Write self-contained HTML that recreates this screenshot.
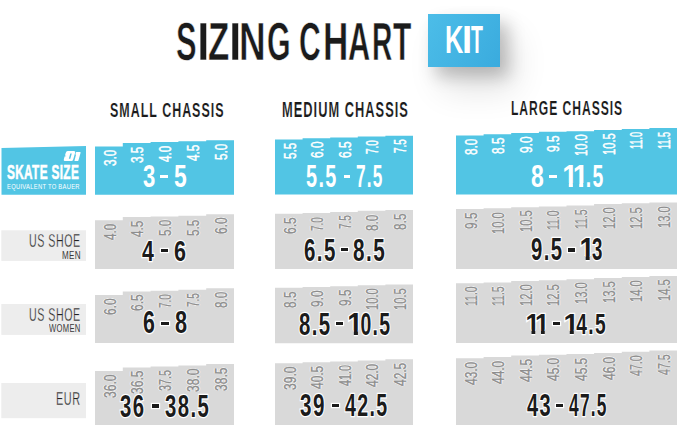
<!DOCTYPE html>
<html><head><meta charset="utf-8"><style>
html,body{margin:0;padding:0;background:#fff;}
body{width:679px;height:427px;position:relative;overflow:hidden;font-family:"Liberation Sans",sans-serif;}
.t{position:absolute;line-height:1;white-space:nowrap;transform-origin:0 0;}
.one{display:inline-block;clip-path:polygon(-1em -1em,2em -1em,2em 0.66em,0.43em 0.66em,0.43em 0.70em,0.374em 0.70em,0.374em 2em,0.23em 2em,0.23em 0.70em,0.17em 0.70em,0.17em 0.66em,-1em 0.66em);transform:scaleX(1.45);transform-origin:0.302em 50%;margin-right:-0.09em;}
svg{position:absolute;left:0;top:0;}
.kit{position:absolute;left:428px;top:14.4px;width:72px;height:53px;background:linear-gradient(120deg,#4cbde8,#3aabde);box-shadow:8px 9px 16px rgba(0,0,0,0.22),14px 22px 34px rgba(0,0,0,0.12);}
</style></head><body>
<div class="kit"></div>
<svg width="679" height="427" viewBox="0 0 679 427">
<polygon fill="#52c5e4" points="95.0,194.7 95.0,146.4 122.8,146.4 122.8,143.1 150.6,143.1 150.6,142.0 178.4,142.0 178.4,141.3 206.2,141.3 206.2,140.3 234.0,140.3 234.0,194.7"/>
<polygon fill="#52c5e4" points="275.0,194.6 275.0,139.4 302.6,139.4 302.6,138.3 330.2,138.3 330.2,137.5 357.8,137.5 357.8,136.5 385.4,136.5 385.4,135.8 413.0,135.8 413.0,194.6"/>
<polygon fill="#52c5e4" points="456.0,194.6 456.0,135.4 483.6,135.4 483.6,134.2 511.2,134.2 511.2,133.0 538.9,133.0 538.9,131.8 566.5,131.8 566.5,131.2 594.1,131.2 594.1,129.9 621.8,129.9 621.8,128.9 649.4,128.9 649.4,128.0 677.0,128.0 677.0,194.6"/>
<polygon fill="#d9d9d9" points="95.0,269.0 95.0,220.3 122.8,220.3 122.8,217.0 150.6,217.0 150.6,216.5 178.4,216.5 178.4,215.7 206.2,215.7 206.2,214.3 234.0,214.3 234.0,269.0"/>
<polygon fill="#d9d9d9" points="275.0,269.0 275.0,213.8 302.6,213.8 302.6,213.1 330.2,213.1 330.2,212.0 357.8,212.0 357.8,210.8 385.4,210.8 385.4,210.0 413.0,210.0 413.0,269.0"/>
<polygon fill="#d9d9d9" points="456.0,268.9 456.0,209.0 483.6,209.0 483.6,208.3 511.2,208.3 511.2,207.2 538.9,207.2 538.9,206.5 566.5,206.5 566.5,205.4 594.1,205.4 594.1,204.0 621.8,204.0 621.8,203.3 649.4,203.3 649.4,202.6 677.0,202.6 677.0,268.9"/>
<polygon fill="#d9d9d9" points="95.0,343.0 95.0,295.1 122.8,295.1 122.8,291.4 150.6,291.4 150.6,290.7 178.4,290.7 178.4,289.7 206.2,289.7 206.2,288.3 234.0,288.3 234.0,343.0"/>
<polygon fill="#d9d9d9" points="275.0,343.2 275.0,287.8 302.6,287.8 302.6,287.1 330.2,287.1 330.2,286.3 357.8,286.3 357.8,285.2 385.4,285.2 385.4,284.4 413.0,284.4 413.0,343.2"/>
<polygon fill="#d9d9d9" points="456.0,342.9 456.0,283.3 483.6,283.3 483.6,282.4 511.2,282.4 511.2,281.0 538.9,281.0 538.9,280.3 566.5,280.3 566.5,279.2 594.1,279.2 594.1,278.1 621.8,278.1 621.8,276.9 649.4,276.9 649.4,276.0 677.0,276.0 677.0,342.9"/>
<polygon fill="#d9d9d9" points="95.0,425.0 95.0,371.1 122.8,371.1 122.8,367.4 150.6,367.4 150.6,366.5 178.4,366.5 178.4,365.5 206.2,365.5 206.2,364.1 234.0,364.1 234.0,425.0"/>
<polygon fill="#d9d9d9" points="275.0,425.0 275.0,363.3 302.6,363.3 302.6,362.2 330.2,362.2 330.2,361.4 357.8,361.4 357.8,360.4 385.4,360.4 385.4,359.2 413.0,359.2 413.0,425.0"/>
<polygon fill="#d9d9d9" points="456.0,425.0 456.0,358.3 483.6,358.3 483.6,357.0 511.2,357.0 511.2,355.6 538.9,355.6 538.9,354.7 566.5,354.7 566.5,354.1 594.1,354.1 594.1,352.9 621.8,352.9 621.8,351.7 649.4,351.7 649.4,350.6 677.0,350.6 677.0,425.0"/>
<polygon fill="#52c5e4" points="1.5,194.8 1.5,148 86,146 86,194.8"/>
<rect fill="#ededed" x="1.3" y="230.3" width="84.7" height="30.6"/>
<rect fill="#ededed" x="1.3" y="304" width="84.7" height="30.9"/>
<rect fill="#ededed" x="1.3" y="383" width="84.7" height="35.2"/>
<path fill="#fff" fill-rule="evenodd" d="M67.8,151.0 L74.0,151.0 Q75.6,151.0 75.2,152.6 L73.2,159.6 Q72.8,161.1 71.3,161.1 L65.0,161.1 Q63.4,161.1 63.8,159.6 L64.6,156.6 L66.4,156.0 L65.0,155.4 L65.6,153.2 Q66.2,151.0 67.8,151.0 Z M70.3,153.4 L71.8,153.4 L70.3,158.8 L68.8,158.8 Z"/>
<path fill="#fff" d="M76.2,152.0 L80.0,152.0 Q80.8,152.0 80.6,152.8 L78.4,160.4 Q78.2,161.1 77.5,161.1 L75.0,161.1 Q74.3,161.1 74.5,160.4 L76.1,154.6 L75.2,154.6 Z"/>
</svg>
<span class="t" style="left:101.65px;top:166.24px;font-size:16.40px;transform:rotate(-90deg) scaleX(0.7189);color:#ffffff;font-weight:400;-webkit-text-stroke:0.5px #fff;">3.0</span>
<span class="t" style="left:129.45px;top:162.94px;font-size:16.40px;transform:rotate(-90deg) scaleX(0.7203);color:#ffffff;font-weight:400;-webkit-text-stroke:0.5px #fff;">3.5</span>
<span class="t" style="left:157.25px;top:161.66px;font-size:16.40px;transform:rotate(-90deg) scaleX(0.7108);color:#ffffff;font-weight:400;-webkit-text-stroke:0.5px #fff;">4.0</span>
<span class="t" style="left:185.05px;top:160.96px;font-size:16.40px;transform:rotate(-90deg) scaleX(0.7121);color:#ffffff;font-weight:400;-webkit-text-stroke:0.5px #fff;">4.5</span>
<span class="t" style="left:212.85px;top:160.17px;font-size:16.40px;transform:rotate(-90deg) scaleX(0.7203);color:#ffffff;font-weight:400;-webkit-text-stroke:0.5px #fff;">5.0</span>
<span class="t" style="left:142.90px;top:160.57px;font-size:31.69px;letter-spacing:2.22px;transform:scaleX(0.6977);color:#ffffff;font-weight:700;">3</span>
<span class="t" style="left:174.11px;top:160.57px;font-size:31.69px;letter-spacing:2.22px;transform:scaleX(0.7231);color:#ffffff;font-weight:700;">5</span>
<div style="position:absolute;left:160.20px;top:174.56px;width:7.90px;height:3.3px;background:#ffffff;"></div>
<span class="t" style="left:281.55px;top:159.27px;font-size:16.40px;transform:rotate(-90deg) scaleX(0.7217);color:#ffffff;font-weight:400;-webkit-text-stroke:0.5px #fff;">5.5</span>
<span class="t" style="left:309.15px;top:158.30px;font-size:16.40px;transform:rotate(-90deg) scaleX(0.7258);color:#ffffff;font-weight:400;-webkit-text-stroke:0.5px #fff;">6.0</span>
<span class="t" style="left:336.75px;top:157.50px;font-size:16.40px;transform:rotate(-90deg) scaleX(0.7272);color:#ffffff;font-weight:400;-webkit-text-stroke:0.5px #fff;">6.5</span>
<span class="t" style="left:364.35px;top:153.90px;font-size:16.40px;transform:rotate(-90deg) scaleX(0.6087);color:#ffffff;font-weight:400;-webkit-text-stroke:0.5px #fff;">7.0</span>
<span class="t" style="left:391.95px;top:153.20px;font-size:16.40px;transform:rotate(-90deg) scaleX(0.6099);color:#ffffff;font-weight:400;-webkit-text-stroke:0.5px #fff;">7.5</span>
<span class="t" style="left:306.01px;top:160.57px;font-size:31.69px;letter-spacing:2.22px;transform:scaleX(0.6258);color:#ffffff;font-weight:700;">5.5</span>
<span class="t" style="left:355.57px;top:160.57px;font-size:31.69px;letter-spacing:2.22px;transform:scaleX(0.5447);color:#ffffff;font-weight:700;">7.5</span>
<div style="position:absolute;left:343.70px;top:174.56px;width:6.70px;height:3.3px;background:#ffffff;"></div>
<span class="t" style="left:462.57px;top:155.30px;font-size:16.40px;transform:rotate(-90deg) scaleX(0.7217);color:#ffffff;font-weight:400;-webkit-text-stroke:0.5px #fff;">8.0</span>
<span class="t" style="left:490.19px;top:154.10px;font-size:16.40px;transform:rotate(-90deg) scaleX(0.7230);color:#ffffff;font-weight:400;-webkit-text-stroke:0.5px #fff;">8.5</span>
<span class="t" style="left:517.82px;top:152.96px;font-size:16.40px;transform:rotate(-90deg) scaleX(0.7244);color:#ffffff;font-weight:400;-webkit-text-stroke:0.5px #fff;">9.0</span>
<span class="t" style="left:545.44px;top:151.77px;font-size:16.40px;transform:rotate(-90deg) scaleX(0.7258);color:#ffffff;font-weight:400;-webkit-text-stroke:0.5px #fff;">9.5</span>
<span class="t" style="left:573.07px;top:156.44px;font-size:16.40px;transform:rotate(-90deg) scaleX(0.6823);color:#ffffff;font-weight:400;-webkit-text-stroke:0.5px #fff;">10.0</span>
<span class="t" style="left:600.69px;top:155.14px;font-size:16.40px;transform:rotate(-90deg) scaleX(0.6832);color:#ffffff;font-weight:400;-webkit-text-stroke:0.5px #fff;">10.5</span>
<span class="t" style="left:628.32px;top:149.48px;font-size:16.40px;transform:rotate(-90deg) scaleX(0.5553);color:#ffffff;font-weight:400;-webkit-text-stroke:0.5px #fff;">11.0</span>
<span class="t" style="left:655.94px;top:148.58px;font-size:16.40px;transform:rotate(-90deg) scaleX(0.5560);color:#ffffff;font-weight:400;-webkit-text-stroke:0.5px #fff;">11.5</span>
<span class="t" style="left:531.15px;top:160.85px;font-size:31.83px;letter-spacing:2.23px;transform:scaleX(0.7208);color:#ffffff;font-weight:700;">8</span>
<span class="t" style="left:564.67px;top:160.85px;font-size:31.83px;letter-spacing:2.23px;transform:scaleX(0.6098);color:#ffffff;font-weight:700;"><span class="one">1</span><span class="one">1</span>.5</span>
<div style="position:absolute;left:549.40px;top:174.91px;width:8.10px;height:3.3px;background:#ffffff;"></div>
<span class="t" style="left:101.65px;top:239.96px;font-size:16.40px;transform:rotate(-90deg) scaleX(0.7108);color:#8e8e8e;font-weight:400;-webkit-text-stroke:0.45px #8e8e8e;text-shadow:0.8px 0 #fff,-0.8px 0 #fff,0 0.8px #fff,0 -0.8px #fff;">4.0</span>
<span class="t" style="left:129.45px;top:236.66px;font-size:16.40px;transform:rotate(-90deg) scaleX(0.7121);color:#8e8e8e;font-weight:400;-webkit-text-stroke:0.45px #8e8e8e;text-shadow:0.8px 0 #fff,-0.8px 0 #fff,0 0.8px #fff,0 -0.8px #fff;">4.5</span>
<span class="t" style="left:157.25px;top:236.37px;font-size:16.40px;transform:rotate(-90deg) scaleX(0.7203);color:#8e8e8e;font-weight:400;-webkit-text-stroke:0.45px #8e8e8e;text-shadow:0.8px 0 #fff,-0.8px 0 #fff,0 0.8px #fff,0 -0.8px #fff;">5.0</span>
<span class="t" style="left:185.05px;top:235.57px;font-size:16.40px;transform:rotate(-90deg) scaleX(0.7217);color:#8e8e8e;font-weight:400;-webkit-text-stroke:0.45px #8e8e8e;text-shadow:0.8px 0 #fff,-0.8px 0 #fff,0 0.8px #fff,0 -0.8px #fff;">5.5</span>
<span class="t" style="left:212.85px;top:234.30px;font-size:16.40px;transform:rotate(-90deg) scaleX(0.7258);color:#8e8e8e;font-weight:400;-webkit-text-stroke:0.45px #8e8e8e;text-shadow:0.8px 0 #fff,-0.8px 0 #fff,0 0.8px #fff,0 -0.8px #fff;">6.0</span>
<span class="t" style="left:142.28px;top:235.52px;font-size:30.00px;letter-spacing:2.10px;transform:scaleX(0.7103);color:#1b1b1b;font-weight:700;-webkit-text-stroke:2.6px #fff;paint-order:stroke fill;">4</span>
<span class="t" style="left:174.19px;top:235.52px;font-size:30.00px;letter-spacing:2.10px;transform:scaleX(0.7185);color:#1b1b1b;font-weight:700;-webkit-text-stroke:2.6px #fff;paint-order:stroke fill;">6</span>
<div style="position:absolute;left:160.70px;top:248.68px;width:7.70px;height:3.3px;background:#1b1b1b;box-shadow:0 0 0 1.2px #fff;"></div>
<span class="t" style="left:281.55px;top:233.80px;font-size:16.40px;transform:rotate(-90deg) scaleX(0.7272);color:#8e8e8e;font-weight:400;-webkit-text-stroke:0.45px #8e8e8e;text-shadow:0.8px 0 #fff,-0.8px 0 #fff,0 0.8px #fff,0 -0.8px #fff;">6.5</span>
<span class="t" style="left:309.15px;top:230.50px;font-size:16.40px;transform:rotate(-90deg) scaleX(0.6087);color:#8e8e8e;font-weight:400;-webkit-text-stroke:0.45px #8e8e8e;text-shadow:0.8px 0 #fff,-0.8px 0 #fff,0 0.8px #fff,0 -0.8px #fff;">7.0</span>
<span class="t" style="left:336.75px;top:229.40px;font-size:16.40px;transform:rotate(-90deg) scaleX(0.6099);color:#8e8e8e;font-weight:400;-webkit-text-stroke:0.45px #8e8e8e;text-shadow:0.8px 0 #fff,-0.8px 0 #fff,0 0.8px #fff,0 -0.8px #fff;">7.5</span>
<span class="t" style="left:364.35px;top:230.70px;font-size:16.40px;transform:rotate(-90deg) scaleX(0.7217);color:#8e8e8e;font-weight:400;-webkit-text-stroke:0.45px #8e8e8e;text-shadow:0.8px 0 #fff,-0.8px 0 #fff,0 0.8px #fff,0 -0.8px #fff;">8.0</span>
<span class="t" style="left:391.95px;top:229.90px;font-size:16.40px;transform:rotate(-90deg) scaleX(0.7230);color:#8e8e8e;font-weight:400;-webkit-text-stroke:0.45px #8e8e8e;text-shadow:0.8px 0 #fff,-0.8px 0 #fff,0 0.8px #fff,0 -0.8px #fff;">8.5</span>
<span class="t" style="left:303.83px;top:234.74px;font-size:30.56px;letter-spacing:2.14px;transform:scaleX(0.6722);color:#1b1b1b;font-weight:700;-webkit-text-stroke:2.6px #fff;paint-order:stroke fill;">6.5</span>
<span class="t" style="left:353.33px;top:234.74px;font-size:30.56px;letter-spacing:2.14px;transform:scaleX(0.6789);color:#1b1b1b;font-weight:700;-webkit-text-stroke:2.6px #fff;paint-order:stroke fill;">8.5</span>
<div style="position:absolute;left:340.90px;top:248.17px;width:6.90px;height:3.3px;background:#1b1b1b;box-shadow:0 0 0 1.2px #fff;"></div>
<span class="t" style="left:462.57px;top:228.97px;font-size:16.40px;transform:rotate(-90deg) scaleX(0.7258);color:#8e8e8e;font-weight:400;-webkit-text-stroke:0.45px #8e8e8e;text-shadow:0.8px 0 #fff,-0.8px 0 #fff,0 0.8px #fff,0 -0.8px #fff;">9.5</span>
<span class="t" style="left:490.19px;top:233.54px;font-size:16.40px;transform:rotate(-90deg) scaleX(0.6823);color:#8e8e8e;font-weight:400;-webkit-text-stroke:0.45px #8e8e8e;text-shadow:0.8px 0 #fff,-0.8px 0 #fff,0 0.8px #fff,0 -0.8px #fff;">10.0</span>
<span class="t" style="left:517.82px;top:232.44px;font-size:16.40px;transform:rotate(-90deg) scaleX(0.6832);color:#8e8e8e;font-weight:400;-webkit-text-stroke:0.45px #8e8e8e;text-shadow:0.8px 0 #fff,-0.8px 0 #fff,0 0.8px #fff,0 -0.8px #fff;">10.5</span>
<span class="t" style="left:545.44px;top:229.69px;font-size:16.40px;transform:rotate(-90deg) scaleX(0.6420);color:#8e8e8e;font-weight:400;-webkit-text-stroke:0.45px #8e8e8e;text-shadow:0.8px 0 #fff,-0.8px 0 #fff,0 0.8px #fff,0 -0.8px #fff;">11.0</span>
<span class="t" style="left:573.07px;top:228.59px;font-size:16.40px;transform:rotate(-90deg) scaleX(0.6429);color:#8e8e8e;font-weight:400;-webkit-text-stroke:0.45px #8e8e8e;text-shadow:0.8px 0 #fff,-0.8px 0 #fff,0 0.8px #fff,0 -0.8px #fff;">11.5</span>
<span class="t" style="left:600.69px;top:229.24px;font-size:16.40px;transform:rotate(-90deg) scaleX(0.6823);color:#8e8e8e;font-weight:400;-webkit-text-stroke:0.45px #8e8e8e;text-shadow:0.8px 0 #fff,-0.8px 0 #fff,0 0.8px #fff,0 -0.8px #fff;">12.0</span>
<span class="t" style="left:628.32px;top:228.54px;font-size:16.40px;transform:rotate(-90deg) scaleX(0.6832);color:#8e8e8e;font-weight:400;-webkit-text-stroke:0.45px #8e8e8e;text-shadow:0.8px 0 #fff,-0.8px 0 #fff,0 0.8px #fff,0 -0.8px #fff;">12.5</span>
<span class="t" style="left:655.94px;top:227.84px;font-size:16.40px;transform:rotate(-90deg) scaleX(0.6823);color:#8e8e8e;font-weight:400;-webkit-text-stroke:0.45px #8e8e8e;text-shadow:0.8px 0 #fff,-0.8px 0 #fff,0 0.8px #fff,0 -0.8px #fff;">13.0</span>
<span class="t" style="left:530.59px;top:234.70px;font-size:30.85px;letter-spacing:2.16px;transform:scaleX(0.6583);color:#1b1b1b;font-weight:700;-webkit-text-stroke:2.6px #fff;paint-order:stroke fill;">9.5</span>
<span class="t" style="left:582.44px;top:234.70px;font-size:30.85px;letter-spacing:2.16px;transform:scaleX(0.6074);color:#1b1b1b;font-weight:700;-webkit-text-stroke:2.6px #fff;paint-order:stroke fill;"><span class="one">1</span>3</span>
<div style="position:absolute;left:567.70px;top:248.27px;width:7.30px;height:3.3px;background:#1b1b1b;box-shadow:0 0 0 1.2px #fff;"></div>
<span class="t" style="left:101.65px;top:315.10px;font-size:16.40px;transform:rotate(-90deg) scaleX(0.7258);color:#8e8e8e;font-weight:400;-webkit-text-stroke:0.45px #8e8e8e;text-shadow:0.8px 0 #fff,-0.8px 0 #fff,0 0.8px #fff,0 -0.8px #fff;">6.0</span>
<span class="t" style="left:129.45px;top:311.40px;font-size:16.40px;transform:rotate(-90deg) scaleX(0.7272);color:#8e8e8e;font-weight:400;-webkit-text-stroke:0.45px #8e8e8e;text-shadow:0.8px 0 #fff,-0.8px 0 #fff,0 0.8px #fff,0 -0.8px #fff;">6.5</span>
<span class="t" style="left:157.25px;top:308.10px;font-size:16.40px;transform:rotate(-90deg) scaleX(0.6087);color:#8e8e8e;font-weight:400;-webkit-text-stroke:0.45px #8e8e8e;text-shadow:0.8px 0 #fff,-0.8px 0 #fff,0 0.8px #fff,0 -0.8px #fff;">7.0</span>
<span class="t" style="left:185.05px;top:307.10px;font-size:16.40px;transform:rotate(-90deg) scaleX(0.6099);color:#8e8e8e;font-weight:400;-webkit-text-stroke:0.45px #8e8e8e;text-shadow:0.8px 0 #fff,-0.8px 0 #fff,0 0.8px #fff,0 -0.8px #fff;">7.5</span>
<span class="t" style="left:212.85px;top:308.20px;font-size:16.40px;transform:rotate(-90deg) scaleX(0.7217);color:#8e8e8e;font-weight:400;-webkit-text-stroke:0.45px #8e8e8e;text-shadow:0.8px 0 #fff,-0.8px 0 #fff,0 0.8px #fff,0 -0.8px #fff;">8.0</span>
<span class="t" style="left:143.20px;top:308.20px;font-size:30.85px;letter-spacing:2.16px;transform:scaleX(0.6921);color:#1b1b1b;font-weight:700;-webkit-text-stroke:2.6px #fff;paint-order:stroke fill;">6</span>
<span class="t" style="left:174.69px;top:308.20px;font-size:30.85px;letter-spacing:2.16px;transform:scaleX(0.7044);color:#1b1b1b;font-weight:700;-webkit-text-stroke:2.6px #fff;paint-order:stroke fill;">8</span>
<div style="position:absolute;left:161.00px;top:321.77px;width:7.60px;height:3.3px;background:#1b1b1b;box-shadow:0 0 0 1.2px #fff;"></div>
<span class="t" style="left:281.55px;top:307.70px;font-size:16.40px;transform:rotate(-90deg) scaleX(0.7230);color:#8e8e8e;font-weight:400;-webkit-text-stroke:0.45px #8e8e8e;text-shadow:0.8px 0 #fff,-0.8px 0 #fff,0 0.8px #fff,0 -0.8px #fff;">8.5</span>
<span class="t" style="left:309.15px;top:307.06px;font-size:16.40px;transform:rotate(-90deg) scaleX(0.7244);color:#8e8e8e;font-weight:400;-webkit-text-stroke:0.45px #8e8e8e;text-shadow:0.8px 0 #fff,-0.8px 0 #fff,0 0.8px #fff,0 -0.8px #fff;">9.0</span>
<span class="t" style="left:336.75px;top:306.27px;font-size:16.40px;transform:rotate(-90deg) scaleX(0.7258);color:#8e8e8e;font-weight:400;-webkit-text-stroke:0.45px #8e8e8e;text-shadow:0.8px 0 #fff,-0.8px 0 #fff,0 0.8px #fff,0 -0.8px #fff;">9.5</span>
<span class="t" style="left:364.35px;top:310.44px;font-size:16.40px;transform:rotate(-90deg) scaleX(0.6823);color:#8e8e8e;font-weight:400;-webkit-text-stroke:0.45px #8e8e8e;text-shadow:0.8px 0 #fff,-0.8px 0 #fff,0 0.8px #fff,0 -0.8px #fff;">10.0</span>
<span class="t" style="left:391.95px;top:309.64px;font-size:16.40px;transform:rotate(-90deg) scaleX(0.6832);color:#8e8e8e;font-weight:400;-webkit-text-stroke:0.45px #8e8e8e;text-shadow:0.8px 0 #fff,-0.8px 0 #fff,0 0.8px #fff,0 -0.8px #fff;">10.5</span>
<span class="t" style="left:298.64px;top:308.74px;font-size:30.56px;letter-spacing:2.14px;transform:scaleX(0.6677);color:#1b1b1b;font-weight:700;-webkit-text-stroke:2.6px #fff;paint-order:stroke fill;">8.5</span>
<span class="t" style="left:350.47px;top:308.74px;font-size:30.56px;letter-spacing:2.14px;transform:scaleX(0.6364);color:#1b1b1b;font-weight:700;-webkit-text-stroke:2.6px #fff;paint-order:stroke fill;"><span class="one">1</span>0.5</span>
<div style="position:absolute;left:336.00px;top:322.17px;width:6.80px;height:3.3px;background:#1b1b1b;box-shadow:0 0 0 1.2px #fff;"></div>
<span class="t" style="left:462.57px;top:306.49px;font-size:16.40px;transform:rotate(-90deg) scaleX(0.6420);color:#8e8e8e;font-weight:400;-webkit-text-stroke:0.45px #8e8e8e;text-shadow:0.8px 0 #fff,-0.8px 0 #fff,0 0.8px #fff,0 -0.8px #fff;">11.0</span>
<span class="t" style="left:490.19px;top:305.59px;font-size:16.40px;transform:rotate(-90deg) scaleX(0.6429);color:#8e8e8e;font-weight:400;-webkit-text-stroke:0.45px #8e8e8e;text-shadow:0.8px 0 #fff,-0.8px 0 #fff,0 0.8px #fff,0 -0.8px #fff;">11.5</span>
<span class="t" style="left:517.82px;top:306.24px;font-size:16.40px;transform:rotate(-90deg) scaleX(0.6823);color:#8e8e8e;font-weight:400;-webkit-text-stroke:0.45px #8e8e8e;text-shadow:0.8px 0 #fff,-0.8px 0 #fff,0 0.8px #fff,0 -0.8px #fff;">12.0</span>
<span class="t" style="left:545.44px;top:305.54px;font-size:16.40px;transform:rotate(-90deg) scaleX(0.6832);color:#8e8e8e;font-weight:400;-webkit-text-stroke:0.45px #8e8e8e;text-shadow:0.8px 0 #fff,-0.8px 0 #fff,0 0.8px #fff,0 -0.8px #fff;">12.5</span>
<span class="t" style="left:573.07px;top:304.44px;font-size:16.40px;transform:rotate(-90deg) scaleX(0.6823);color:#8e8e8e;font-weight:400;-webkit-text-stroke:0.45px #8e8e8e;text-shadow:0.8px 0 #fff,-0.8px 0 #fff,0 0.8px #fff,0 -0.8px #fff;">13.0</span>
<span class="t" style="left:600.69px;top:303.34px;font-size:16.40px;transform:rotate(-90deg) scaleX(0.6832);color:#8e8e8e;font-weight:400;-webkit-text-stroke:0.45px #8e8e8e;text-shadow:0.8px 0 #fff,-0.8px 0 #fff,0 0.8px #fff,0 -0.8px #fff;">13.5</span>
<span class="t" style="left:628.32px;top:302.14px;font-size:16.40px;transform:rotate(-90deg) scaleX(0.6823);color:#8e8e8e;font-weight:400;-webkit-text-stroke:0.45px #8e8e8e;text-shadow:0.8px 0 #fff,-0.8px 0 #fff,0 0.8px #fff,0 -0.8px #fff;">14.0</span>
<span class="t" style="left:655.94px;top:301.24px;font-size:16.40px;transform:rotate(-90deg) scaleX(0.6832);color:#8e8e8e;font-weight:400;-webkit-text-stroke:0.45px #8e8e8e;text-shadow:0.8px 0 #fff,-0.8px 0 #fff,0 0.8px #fff,0 -0.8px #fff;">14.5</span>
<span class="t" style="left:528.29px;top:308.62px;font-size:30.00px;letter-spacing:2.10px;transform:scaleX(0.5936);color:#1b1b1b;font-weight:700;-webkit-text-stroke:2.6px #fff;paint-order:stroke fill;"><span class="one">1</span><span class="one">1</span></span>
<span class="t" style="left:566.26px;top:308.62px;font-size:30.00px;letter-spacing:2.10px;transform:scaleX(0.6404);color:#1b1b1b;font-weight:700;-webkit-text-stroke:2.6px #fff;paint-order:stroke fill;"><span class="one">1</span>4.5</span>
<div style="position:absolute;left:552.50px;top:321.78px;width:7.50px;height:3.3px;background:#1b1b1b;box-shadow:0 0 0 1.2px #fff;"></div>
<span class="t" style="left:101.65px;top:397.95px;font-size:16.40px;transform:rotate(-90deg) scaleX(0.7339);color:#8e8e8e;font-weight:400;-webkit-text-stroke:0.45px #8e8e8e;text-shadow:0.8px 0 #fff,-0.8px 0 #fff,0 0.8px #fff,0 -0.8px #fff;">36.0</span>
<span class="t" style="left:129.45px;top:394.25px;font-size:16.40px;transform:rotate(-90deg) scaleX(0.7348);color:#8e8e8e;font-weight:400;-webkit-text-stroke:0.45px #8e8e8e;text-shadow:0.8px 0 #fff,-0.8px 0 #fff,0 0.8px #fff,0 -0.8px #fff;">36.5</span>
<span class="t" style="left:157.25px;top:390.80px;font-size:16.40px;transform:rotate(-90deg) scaleX(0.6532);color:#8e8e8e;font-weight:400;-webkit-text-stroke:0.45px #8e8e8e;text-shadow:0.8px 0 #fff,-0.8px 0 #fff,0 0.8px #fff,0 -0.8px #fff;">37.5</span>
<span class="t" style="left:185.05px;top:392.35px;font-size:16.40px;transform:rotate(-90deg) scaleX(0.7339);color:#8e8e8e;font-weight:400;-webkit-text-stroke:0.45px #8e8e8e;text-shadow:0.8px 0 #fff,-0.8px 0 #fff,0 0.8px #fff,0 -0.8px #fff;">38.0</span>
<span class="t" style="left:212.85px;top:390.95px;font-size:16.40px;transform:rotate(-90deg) scaleX(0.7348);color:#8e8e8e;font-weight:400;-webkit-text-stroke:0.45px #8e8e8e;text-shadow:0.8px 0 #fff,-0.8px 0 #fff,0 0.8px #fff,0 -0.8px #fff;">38.5</span>
<span class="t" style="left:120.44px;top:390.58px;font-size:30.99px;letter-spacing:2.17px;transform:scaleX(0.6555);color:#1b1b1b;font-weight:700;-webkit-text-stroke:2.6px #fff;paint-order:stroke fill;">36</span>
<span class="t" style="left:164.54px;top:390.58px;font-size:30.99px;letter-spacing:2.17px;transform:scaleX(0.6562);color:#1b1b1b;font-weight:700;-webkit-text-stroke:2.6px #fff;paint-order:stroke fill;">38.5</span>
<div style="position:absolute;left:151.80px;top:404.22px;width:7.40px;height:3.3px;background:#1b1b1b;box-shadow:0 0 0 1.2px #fff;"></div>
<span class="t" style="left:281.55px;top:390.15px;font-size:16.40px;transform:rotate(-90deg) scaleX(0.7339);color:#8e8e8e;font-weight:400;-webkit-text-stroke:0.45px #8e8e8e;text-shadow:0.8px 0 #fff,-0.8px 0 #fff,0 0.8px #fff,0 -0.8px #fff;">39.0</span>
<span class="t" style="left:309.15px;top:388.87px;font-size:16.40px;transform:rotate(-90deg) scaleX(0.7290);color:#8e8e8e;font-weight:400;-webkit-text-stroke:0.45px #8e8e8e;text-shadow:0.8px 0 #fff,-0.8px 0 #fff,0 0.8px #fff,0 -0.8px #fff;">40.5</span>
<span class="t" style="left:336.75px;top:386.04px;font-size:16.40px;transform:rotate(-90deg) scaleX(0.6633);color:#8e8e8e;font-weight:400;-webkit-text-stroke:0.45px #8e8e8e;text-shadow:0.8px 0 #fff,-0.8px 0 #fff,0 0.8px #fff,0 -0.8px #fff;">41.0</span>
<span class="t" style="left:364.35px;top:387.07px;font-size:16.40px;transform:rotate(-90deg) scaleX(0.7280);color:#8e8e8e;font-weight:400;-webkit-text-stroke:0.45px #8e8e8e;text-shadow:0.8px 0 #fff,-0.8px 0 #fff,0 0.8px #fff,0 -0.8px #fff;">42.0</span>
<span class="t" style="left:391.95px;top:385.87px;font-size:16.40px;transform:rotate(-90deg) scaleX(0.7290);color:#8e8e8e;font-weight:400;-webkit-text-stroke:0.45px #8e8e8e;text-shadow:0.8px 0 #fff,-0.8px 0 #fff,0 0.8px #fff,0 -0.8px #fff;">42.5</span>
<span class="t" style="left:300.33px;top:390.24px;font-size:30.56px;letter-spacing:2.14px;transform:scaleX(0.6762);color:#1b1b1b;font-weight:700;-webkit-text-stroke:2.6px #fff;paint-order:stroke fill;">39</span>
<span class="t" style="left:344.71px;top:390.24px;font-size:30.56px;letter-spacing:2.14px;transform:scaleX(0.6412);color:#1b1b1b;font-weight:700;-webkit-text-stroke:2.6px #fff;paint-order:stroke fill;">42.5</span>
<div style="position:absolute;left:331.60px;top:403.67px;width:7.40px;height:3.3px;background:#1b1b1b;box-shadow:0 0 0 1.2px #fff;"></div>
<span class="t" style="left:462.57px;top:384.97px;font-size:16.40px;transform:rotate(-90deg) scaleX(0.7280);color:#8e8e8e;font-weight:400;-webkit-text-stroke:0.45px #8e8e8e;text-shadow:0.8px 0 #fff,-0.8px 0 #fff,0 0.8px #fff,0 -0.8px #fff;">43.0</span>
<span class="t" style="left:490.19px;top:383.67px;font-size:16.40px;transform:rotate(-90deg) scaleX(0.7280);color:#8e8e8e;font-weight:400;-webkit-text-stroke:0.45px #8e8e8e;text-shadow:0.8px 0 #fff,-0.8px 0 #fff,0 0.8px #fff,0 -0.8px #fff;">44.0</span>
<span class="t" style="left:517.82px;top:382.27px;font-size:16.40px;transform:rotate(-90deg) scaleX(0.7290);color:#8e8e8e;font-weight:400;-webkit-text-stroke:0.45px #8e8e8e;text-shadow:0.8px 0 #fff,-0.8px 0 #fff,0 0.8px #fff,0 -0.8px #fff;">44.5</span>
<span class="t" style="left:545.44px;top:381.37px;font-size:16.40px;transform:rotate(-90deg) scaleX(0.7280);color:#8e8e8e;font-weight:400;-webkit-text-stroke:0.45px #8e8e8e;text-shadow:0.8px 0 #fff,-0.8px 0 #fff,0 0.8px #fff,0 -0.8px #fff;">45.0</span>
<span class="t" style="left:573.07px;top:380.77px;font-size:16.40px;transform:rotate(-90deg) scaleX(0.7290);color:#8e8e8e;font-weight:400;-webkit-text-stroke:0.45px #8e8e8e;text-shadow:0.8px 0 #fff,-0.8px 0 #fff,0 0.8px #fff,0 -0.8px #fff;">45.5</span>
<span class="t" style="left:600.69px;top:379.57px;font-size:16.40px;transform:rotate(-90deg) scaleX(0.7280);color:#8e8e8e;font-weight:400;-webkit-text-stroke:0.45px #8e8e8e;text-shadow:0.8px 0 #fff,-0.8px 0 #fff,0 0.8px #fff,0 -0.8px #fff;">46.0</span>
<span class="t" style="left:628.32px;top:375.84px;font-size:16.40px;transform:rotate(-90deg) scaleX(0.6471);color:#8e8e8e;font-weight:400;-webkit-text-stroke:0.45px #8e8e8e;text-shadow:0.8px 0 #fff,-0.8px 0 #fff,0 0.8px #fff,0 -0.8px #fff;">47.0</span>
<span class="t" style="left:655.94px;top:374.74px;font-size:16.40px;transform:rotate(-90deg) scaleX(0.6480);color:#8e8e8e;font-weight:400;-webkit-text-stroke:0.45px #8e8e8e;text-shadow:0.8px 0 #fff,-0.8px 0 #fff,0 0.8px #fff,0 -0.8px #fff;">47.5</span>
<span class="t" style="left:526.70px;top:390.26px;font-size:31.13px;letter-spacing:2.18px;transform:scaleX(0.6425);color:#1b1b1b;font-weight:700;-webkit-text-stroke:2.6px #fff;paint-order:stroke fill;">43</span>
<span class="t" style="left:568.94px;top:390.26px;font-size:31.13px;letter-spacing:2.18px;transform:scaleX(0.5581);color:#1b1b1b;font-weight:700;-webkit-text-stroke:2.6px #fff;paint-order:stroke fill;">47.5</span>
<div style="position:absolute;left:556.00px;top:403.97px;width:7.00px;height:3.3px;background:#1b1b1b;box-shadow:0 0 0 1.2px #fff;"></div>
<span class="t" style="left:7.25px;top:163.35px;font-size:19.79px;letter-spacing:0.59px;transform:scaleX(0.5965);color:#fff;font-weight:700;-webkit-text-stroke:0.6px #fff;">SKATE SIZE</span>
<span class="t" style="left:6.92px;top:183.22px;font-size:7.89px;letter-spacing:0.39px;transform:scaleX(0.7371);color:#fff;font-weight:400;">EQUIVALENT TO BAUER</span>
<span class="t" style="left:28.67px;top:231.80px;font-size:18.80px;letter-spacing:0.94px;transform:scaleX(0.5669);color:#222;font-weight:400;-webkit-text-stroke:0.35px #ededed;">US SHOE</span>
<span class="t" style="left:62.33px;top:249.15px;font-size:11.64px;letter-spacing:0.47px;transform:scaleX(0.6955);color:#3a3a3a;font-weight:400;">MEN</span>
<span class="t" style="left:28.67px;top:305.66px;font-size:18.37px;letter-spacing:0.92px;transform:scaleX(0.5800);color:#222;font-weight:400;-webkit-text-stroke:0.35px #ededed;">US SHOE</span>
<span class="t" style="left:49.26px;top:322.89px;font-size:11.45px;letter-spacing:0.46px;transform:scaleX(0.6675);color:#3a3a3a;font-weight:400;">WOMEN</span>
<span class="t" style="left:56.00px;top:390.13px;font-size:18.64px;letter-spacing:0.93px;transform:scaleX(0.5848);color:#222;font-weight:400;-webkit-text-stroke:0.35px #ededed;">EUR</span>
<span class="t" style="left:175.83px;top:15.46px;font-size:53.67px;letter-spacing:0.00px;transform:scaleX(0.5738);color:#1b1b1b;font-weight:700;-webkit-text-stroke:0.6px #fff;">S</span>
<span class="t" style="left:196.67px;top:15.46px;font-size:53.67px;letter-spacing:0.00px;transform:scaleX(0.8499);color:#1b1b1b;font-weight:700;-webkit-text-stroke:0.6px #fff;">I</span>
<span class="t" style="left:208.20px;top:15.46px;font-size:53.67px;letter-spacing:0.00px;transform:scaleX(0.6508);color:#1b1b1b;font-weight:700;-webkit-text-stroke:0.6px #fff;">Z</span>
<span class="t" style="left:228.62px;top:15.46px;font-size:53.67px;letter-spacing:0.00px;transform:scaleX(0.8368);color:#1b1b1b;font-weight:700;-webkit-text-stroke:0.6px #fff;">I</span>
<span class="t" style="left:238.56px;top:15.46px;font-size:53.67px;letter-spacing:0.00px;transform:scaleX(0.6882);color:#1b1b1b;font-weight:700;-webkit-text-stroke:0.6px #fff;">N</span>
<span class="t" style="left:266.94px;top:15.46px;font-size:53.67px;letter-spacing:0.00px;transform:scaleX(0.5658);color:#1b1b1b;font-weight:700;-webkit-text-stroke:0.6px #fff;">G</span>
<span class="t" style="left:299.05px;top:15.46px;font-size:53.67px;letter-spacing:0.00px;transform:scaleX(0.5604);color:#1b1b1b;font-weight:700;-webkit-text-stroke:0.6px #fff;">C</span>
<span class="t" style="left:322.78px;top:15.46px;font-size:53.67px;letter-spacing:0.00px;transform:scaleX(0.6533);color:#1b1b1b;font-weight:700;-webkit-text-stroke:0.6px #fff;">H</span>
<span class="t" style="left:348.38px;top:15.46px;font-size:53.67px;letter-spacing:0.00px;transform:scaleX(0.5728);color:#1b1b1b;font-weight:700;-webkit-text-stroke:0.6px #fff;">A</span>
<span class="t" style="left:372.05px;top:15.46px;font-size:53.67px;letter-spacing:0.00px;transform:scaleX(0.5243);color:#1b1b1b;font-weight:700;-webkit-text-stroke:0.6px #fff;">R</span>
<span class="t" style="left:392.85px;top:15.46px;font-size:53.67px;letter-spacing:0.00px;transform:scaleX(0.5589);color:#1b1b1b;font-weight:700;-webkit-text-stroke:0.6px #fff;">T</span>
<span class="t" style="left:109.63px;top:99.74px;font-size:20.49px;letter-spacing:1.64px;transform:scaleX(0.6083);color:#1b1b1b;font-weight:700;-webkit-text-stroke:0.15px #fff;">SMALL CHASSIS</span>
<span class="t" style="left:281.93px;top:99.53px;font-size:21.27px;letter-spacing:1.70px;transform:scaleX(0.6031);color:#1b1b1b;font-weight:700;-webkit-text-stroke:0.15px #fff;">MEDIUM CHASSIS</span>
<span class="t" style="left:511.18px;top:98.08px;font-size:20.92px;letter-spacing:1.67px;transform:scaleX(0.5793);color:#1b1b1b;font-weight:700;-webkit-text-stroke:0.15px #fff;">LARGE CHASSIS</span>
<span class="t" style="left:444.58px;top:21.13px;font-size:38.11px;letter-spacing:0.00px;transform:scaleX(0.6672);color:#fff;font-weight:700;">K</span>
<span class="t" style="left:462.14px;top:21.13px;font-size:38.11px;letter-spacing:0.00px;transform:scaleX(0.9575);color:#fff;font-weight:700;">I</span>
<span class="t" style="left:471.21px;top:21.13px;font-size:38.11px;letter-spacing:0.00px;transform:scaleX(0.5115);color:#fff;font-weight:700;">T</span>
</body></html>
